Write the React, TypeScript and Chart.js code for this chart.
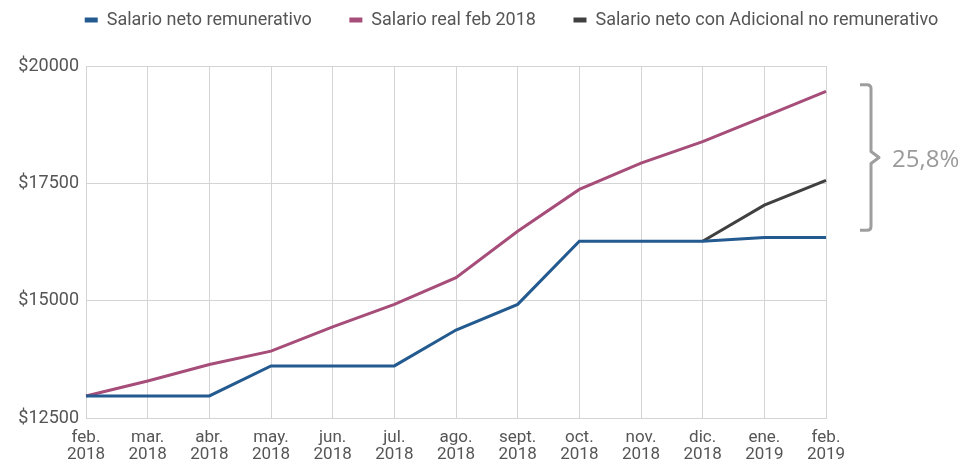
import React, { useEffect, useRef } from "react";
import { Chart, registerables } from "chart.js";

Chart.register(...registerables);

const months: string[][] = [
  ["feb.", "2018"], ["mar.", "2018"], ["abr.", "2018"], ["may.", "2018"],
  ["jun.", "2018"], ["jul.", "2018"], ["ago.", "2018"], ["sept.", "2018"],
  ["oct.", "2018"], ["nov.", "2018"], ["dic.", "2018"], ["ene.", "2019"],
  ["feb.", "2019"],
];

const salarioNeto: number[] = [
  12970, 12970, 12970, 13610, 13610, 13610, 14375, 14920, 16265, 16265, 16265, 16345, 16345,
];
const salarioReal: number[] = [
  12970, 13290, 13640, 13925, 14440, 14920, 15490, 16480, 17370, 17930, 18390, 18920, 19460,
];
const salarioAdicional: (number | null)[] = [
  null, null, null, null, null, null, null, null, null, null, 16265, 17035, 17565,
];

const yTicks: number[] = [12500, 15000, 17500, 20000];
const bracketRange: number[] = [19600, 16500];
const bracketLabel = "25,8%";

const FONT = "Roboto, 'Noto Sans', sans-serif";

const legendShift = {
  id: "legendShift",
  afterLayout(chart: any) {
    const lg = chart.legend;
    if (lg) {
      lg.left = 55;
    }
  },
};

const bracketPlugin = {
  id: "bracket",
  afterDraw(chart: any) {
    const { ctx, chartArea, scales } = chart;
    const y = scales.y;
    const top = y.getPixelForValue(bracketRange[0]);
    const bot = y.getPixelForValue(bracketRange[1]);
    const mid = (top + bot) / 2;
    const x0 = chartArea.right + 34;
    const x1 = x0 + 11;
    const xp = x1 + 8;
    const r = 4;
    ctx.save();
    ctx.strokeStyle = "#9e9e9e";
    ctx.lineWidth = 3;
    ctx.lineJoin = "round";
    ctx.lineCap = "butt";
    ctx.beginPath();
    ctx.moveTo(x0, top);
    ctx.lineTo(x1 - r, top);
    ctx.quadraticCurveTo(x1, top, x1, top + r);
    ctx.lineTo(x1, mid - 6);
    ctx.lineTo(xp, mid);
    ctx.lineTo(x1, mid + 6);
    ctx.lineTo(x1, bot - r);
    ctx.quadraticCurveTo(x1, bot, x1 - r, bot);
    ctx.lineTo(x0, bot);
    ctx.stroke();
    ctx.fillStyle = "#9a9a9a";
    ctx.font = "500 24px 'Open Sans', sans-serif";
    ctx.textAlign = "left";
    ctx.textBaseline = "middle";
    ctx.fillText(bracketLabel, xp + 13, mid + 3);
    ctx.restore();
  },
};

export default function App() {
  const ref = useRef<HTMLCanvasElement | null>(null);

  useEffect(() => {
    if (!ref.current) return;
    const chart = new Chart(ref.current, {
      type: "line",
      data: {
        labels: months,
        datasets: [
          {
            label: "Salario neto remunerativo",
            data: salarioNeto,
            borderColor: "#235a8f",
            backgroundColor: "#235a8f",
            borderWidth: 3,
            pointRadius: 0,
            tension: 0,
          },
          {
            label: "Salario real feb 2018",
            data: salarioReal,
            borderColor: "#a64d79",
            backgroundColor: "#a64d79",
            borderWidth: 3,
            pointRadius: 0,
            tension: 0,
          },
          {
            label: "Salario neto con Adicional no remunerativo",
            data: salarioAdicional,
            borderColor: "#404040",
            backgroundColor: "#404040",
            borderWidth: 3,
            pointRadius: 0,
            tension: 0,
            spanGaps: false,
          },
        ],
      },
      options: {
        animation: false,
        responsive: true,
        maintainAspectRatio: false,
        layout: { padding: { left: 0, right: 0, top: 1, bottom: 0 } },
        plugins: {
          legend: {
            position: "top",
            align: "center",
            labels: {
              boxWidth: 13,
              boxHeight: 5,
              padding: 10,
              color: "#555555",
              font: { family: FONT, size: 18 },
              generateLabels(c: any) {
                const items = Chart.defaults.plugins.legend.labels.generateLabels(c);
                return items.map((it: any, i: number) => ({
                  ...it,
                  text: i < items.length - 1 ? it.text + "\u2003\u2002" : it.text,
                  lineWidth: 0,
                }));
              },
            },
          },
          tooltip: { enabled: false },
        },
        scales: {
          x: {
            offset: false,
            grid: { color: "#d4d4d4", lineWidth: 1, drawTicks: false },
            border: { color: "#d4d4d4" },
            ticks: {
              color: "#555555",
              font: { family: FONT, size: 17, lineHeight: 1.0 },
              padding: 11,
              maxRotation: 0,
              autoSkip: false,
            },
            afterFit(s: any) { s.height = 46; },
          },
          xTop: {
            position: "top",
            display: true,
            grid: { display: false, drawTicks: false },
            border: { display: false },
            ticks: { display: false },
            afterFit(s: any) { s.height = 27; },
          },
          y: {
            min: 12500,
            max: 20000,
            afterBuildTicks(s: any) { s.ticks = yTicks.map((v) => ({ value: v })); },
            grid: { color: "#d4d4d4", lineWidth: 1, drawTicks: false },
            border: { color: "#d4d4d4" },
            ticks: {
              color: "#555555",
              font: { family: FONT, size: 18 },
              padding: 7,
              callback: (v: any) => "$" + v,
            },
            afterFit(s: any) { s.width = 86; },
          },
          yRight: {
            position: "right",
            display: true,
            grid: { display: false, drawTicks: false },
            border: { display: false },
            ticks: { display: false },
            afterFit(s: any) { s.width = 142; },
          },
        },
      },
      plugins: [legendShift, bracketPlugin],
    });
    return () => chart.destroy();
  }, []);

  return (
    <div style={{ position: "absolute", left: 0, top: 0, width: 968, height: 464, background: "#ffffff" }}>
      <canvas ref={ref} />
    </div>
  );
}
